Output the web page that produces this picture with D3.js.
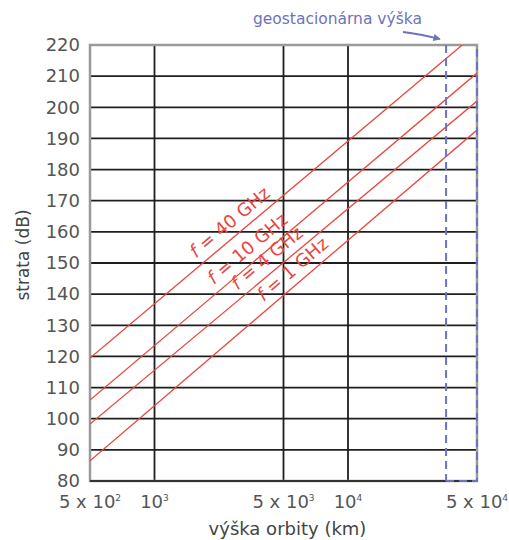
<!DOCTYPE html>
<html>
<head>
<meta charset="utf-8">
<script src="https://cdn.jsdelivr.net/npm/d3@7"></script>
<style>
  body { margin: 0; background: #fff; }
  text { font-family: "DejaVu Sans", sans-serif; }
</style>
</head>
<body>
<svg width="509" height="540"></svg>
<script>
// data
const xTicks = [500, 1000, 5000, 10000, 50000];
const xTickBase = ["5 x 10", "10", "5 x 10", "10", "5 x 10"];
const xTickExp = ["2", "3", "3", "4", "4"];
const yTicks = [80, 90, 100, 110, 120, 130, 140, 150, 160, 170, 180, 190, 200, 210, 220];

const distEnds = [500, 50000];          // km at the two ends of each line
const freqs = ["1", "4", "10", "40"];   // GHz
const loss1 = [86.5, 192.7];
const loss4 = [98.3, 202.0];
const loss10 = [106.0, 211.0];
const loss40 = [119.5, 224.0];
const labelKm = [6080, 4550, 3570, 2860];
const geoKm = 34000;

const svg = d3.select("svg");
const margin = { left: 90, top: 45 };
const width = 387, height = 436;

const g = svg.append("g").attr("transform", `translate(${margin.left},${margin.top})`);

// the original axis is hand spaced: 10^3 at 1/6, 5x10^3 at 1/2, 10^4 at 2/3
const x = d3.scaleLog().domain(xTicks).range([0, 1 / 6, 1 / 2, 2 / 3, 1].map(t => t * width));
const y = d3.scaleLinear().domain([80, 220]).range([height, 0]);

const red = "#e8463e";
const blue = "#6c73bb";

g.append("clipPath").attr("id", "plot")
  .append("rect").attr("width", width).attr("height", height);

// horizontal grid
g.selectAll(".hg").data(yTicks.slice(0, -1)).join("line")
  .attr("x1", 0).attr("x2", width)
  .attr("y1", d => y(d)).attr("y2", d => y(d))
  .attr("stroke", "#1e1e1e").attr("stroke-width", 1.8);

// vertical grid
g.selectAll(".vg").data(xTicks.slice(1, -1)).join("line")
  .attr("x1", d => x(d)).attr("x2", d => x(d))
  .attr("y1", 0).attr("y2", height)
  .attr("stroke", "#1e1e1e").attr("stroke-width", 1.8);

// frame
g.append("rect").attr("width", width).attr("height", height)
  .attr("fill", "none").attr("stroke", "#9a9a9a").attr("stroke-width", 2.5);
g.append("line").attr("x1", 0).attr("x2", width).attr("y1", height).attr("y2", height)
  .attr("stroke", "#333").attr("stroke-width", 1.8);

// path loss lines
const series = [loss1, loss4, loss10, loss40].map((v, i) => ({
  f: freqs[i],
  km: labelKm[i],
  pts: distEnds.map((d, j) => [x(d), y(v[j])])
}));

const lines = g.append("g").attr("clip-path", "url(#plot)");
lines.selectAll("path").data(series).join("path")
  .attr("d", s => d3.line()(s.pts))
  .attr("fill", "none").attr("stroke", red).attr("stroke-width", 1.3);

// labels along the lines
series.forEach(s => {
  const [p0, p1] = s.pts;
  const px = x(s.km);
  const t = (px - p0[0]) / (p1[0] - p0[0]);
  const py = p0[1] + t * (p1[1] - p0[1]);
  const ang = Math.atan2(p1[1] - p0[1], p1[0] - p0[0]) * 180 / Math.PI;
  const txt = g.append("text")
    .attr("transform", `translate(${px},${py}) rotate(${ang})`)
    .attr("y", -8)
    .attr("text-anchor", "middle")
    .attr("fill", red)
    .attr("font-size", 18);
  txt.append("tspan").attr("font-style", "italic").text("f");
  txt.append("tspan").text(` = ${s.f} GHz`);
});

// geostationary orbit
g.append("line")
  .attr("x1", x(geoKm)).attr("x2", x(geoKm))
  .attr("y1", 0).attr("y2", height)
  .attr("stroke", blue).attr("stroke-width", 2).attr("stroke-dasharray", "8,5");
g.append("path")
  .attr("d", `M${x(geoKm)},${height}H${width}V0`)
  .attr("fill", "none")
  .attr("stroke", blue).attr("stroke-width", 2).attr("stroke-dasharray", "8,5");

svg.append("defs").append("marker")
  .attr("id", "arr").attr("viewBox", "0 0 10 10")
  .attr("refX", 9).attr("refY", 5)
  .attr("markerWidth", 4).attr("markerHeight", 4)
  .attr("orient", "auto")
  .append("path").attr("d", "M0,0L10,5L0,10z").attr("fill", blue);

svg.append("path")
  .attr("d", "M403,32Q420,34 440,39")
  .attr("fill", "none").attr("stroke", blue).attr("stroke-width", 1.8)
  .attr("marker-end", "url(#arr)");

svg.append("text")
  .attr("x", 422).attr("y", 24)
  .attr("text-anchor", "end")
  .attr("fill", blue).attr("font-size", 15.5)
  .text("geostacionárna výška");

// y axis labels
const yAxis = g.append("g")
  .call(d3.axisLeft(y).tickValues(yTicks).tickSize(0).tickPadding(10));
yAxis.select(".domain").remove();
yAxis.selectAll("text")
  .attr("font-size", 18).attr("fill", "#555")
  .style("font-family", "'DejaVu Sans', sans-serif");

// x axis labels with superscripts
const xl = g.selectAll(".xl").data(xTicks).join("text")
  .attr("x", d => x(d)).attr("y", height + 27)
  .attr("text-anchor", "middle")
  .attr("fill", "#555").attr("font-size", 18);
xl.append("tspan").text((d, i) => xTickBase[i]);
xl.append("tspan").attr("font-size", 9).attr("dy", -7).text((d, i) => xTickExp[i]);

// axis titles
svg.append("text")
  .attr("x", margin.left + width / 2 + 4).attr("y", 535)
  .attr("text-anchor", "middle")
  .attr("fill", "#444").attr("font-size", 18)
  .text("výška orbity (km)");

svg.append("text")
  .attr("transform", `translate(29,${255}) rotate(-90)`)
  .attr("text-anchor", "middle")
  .attr("fill", "#444").attr("font-size", 17)
  .text("strata (dB)");
</script>
</body>
</html>
